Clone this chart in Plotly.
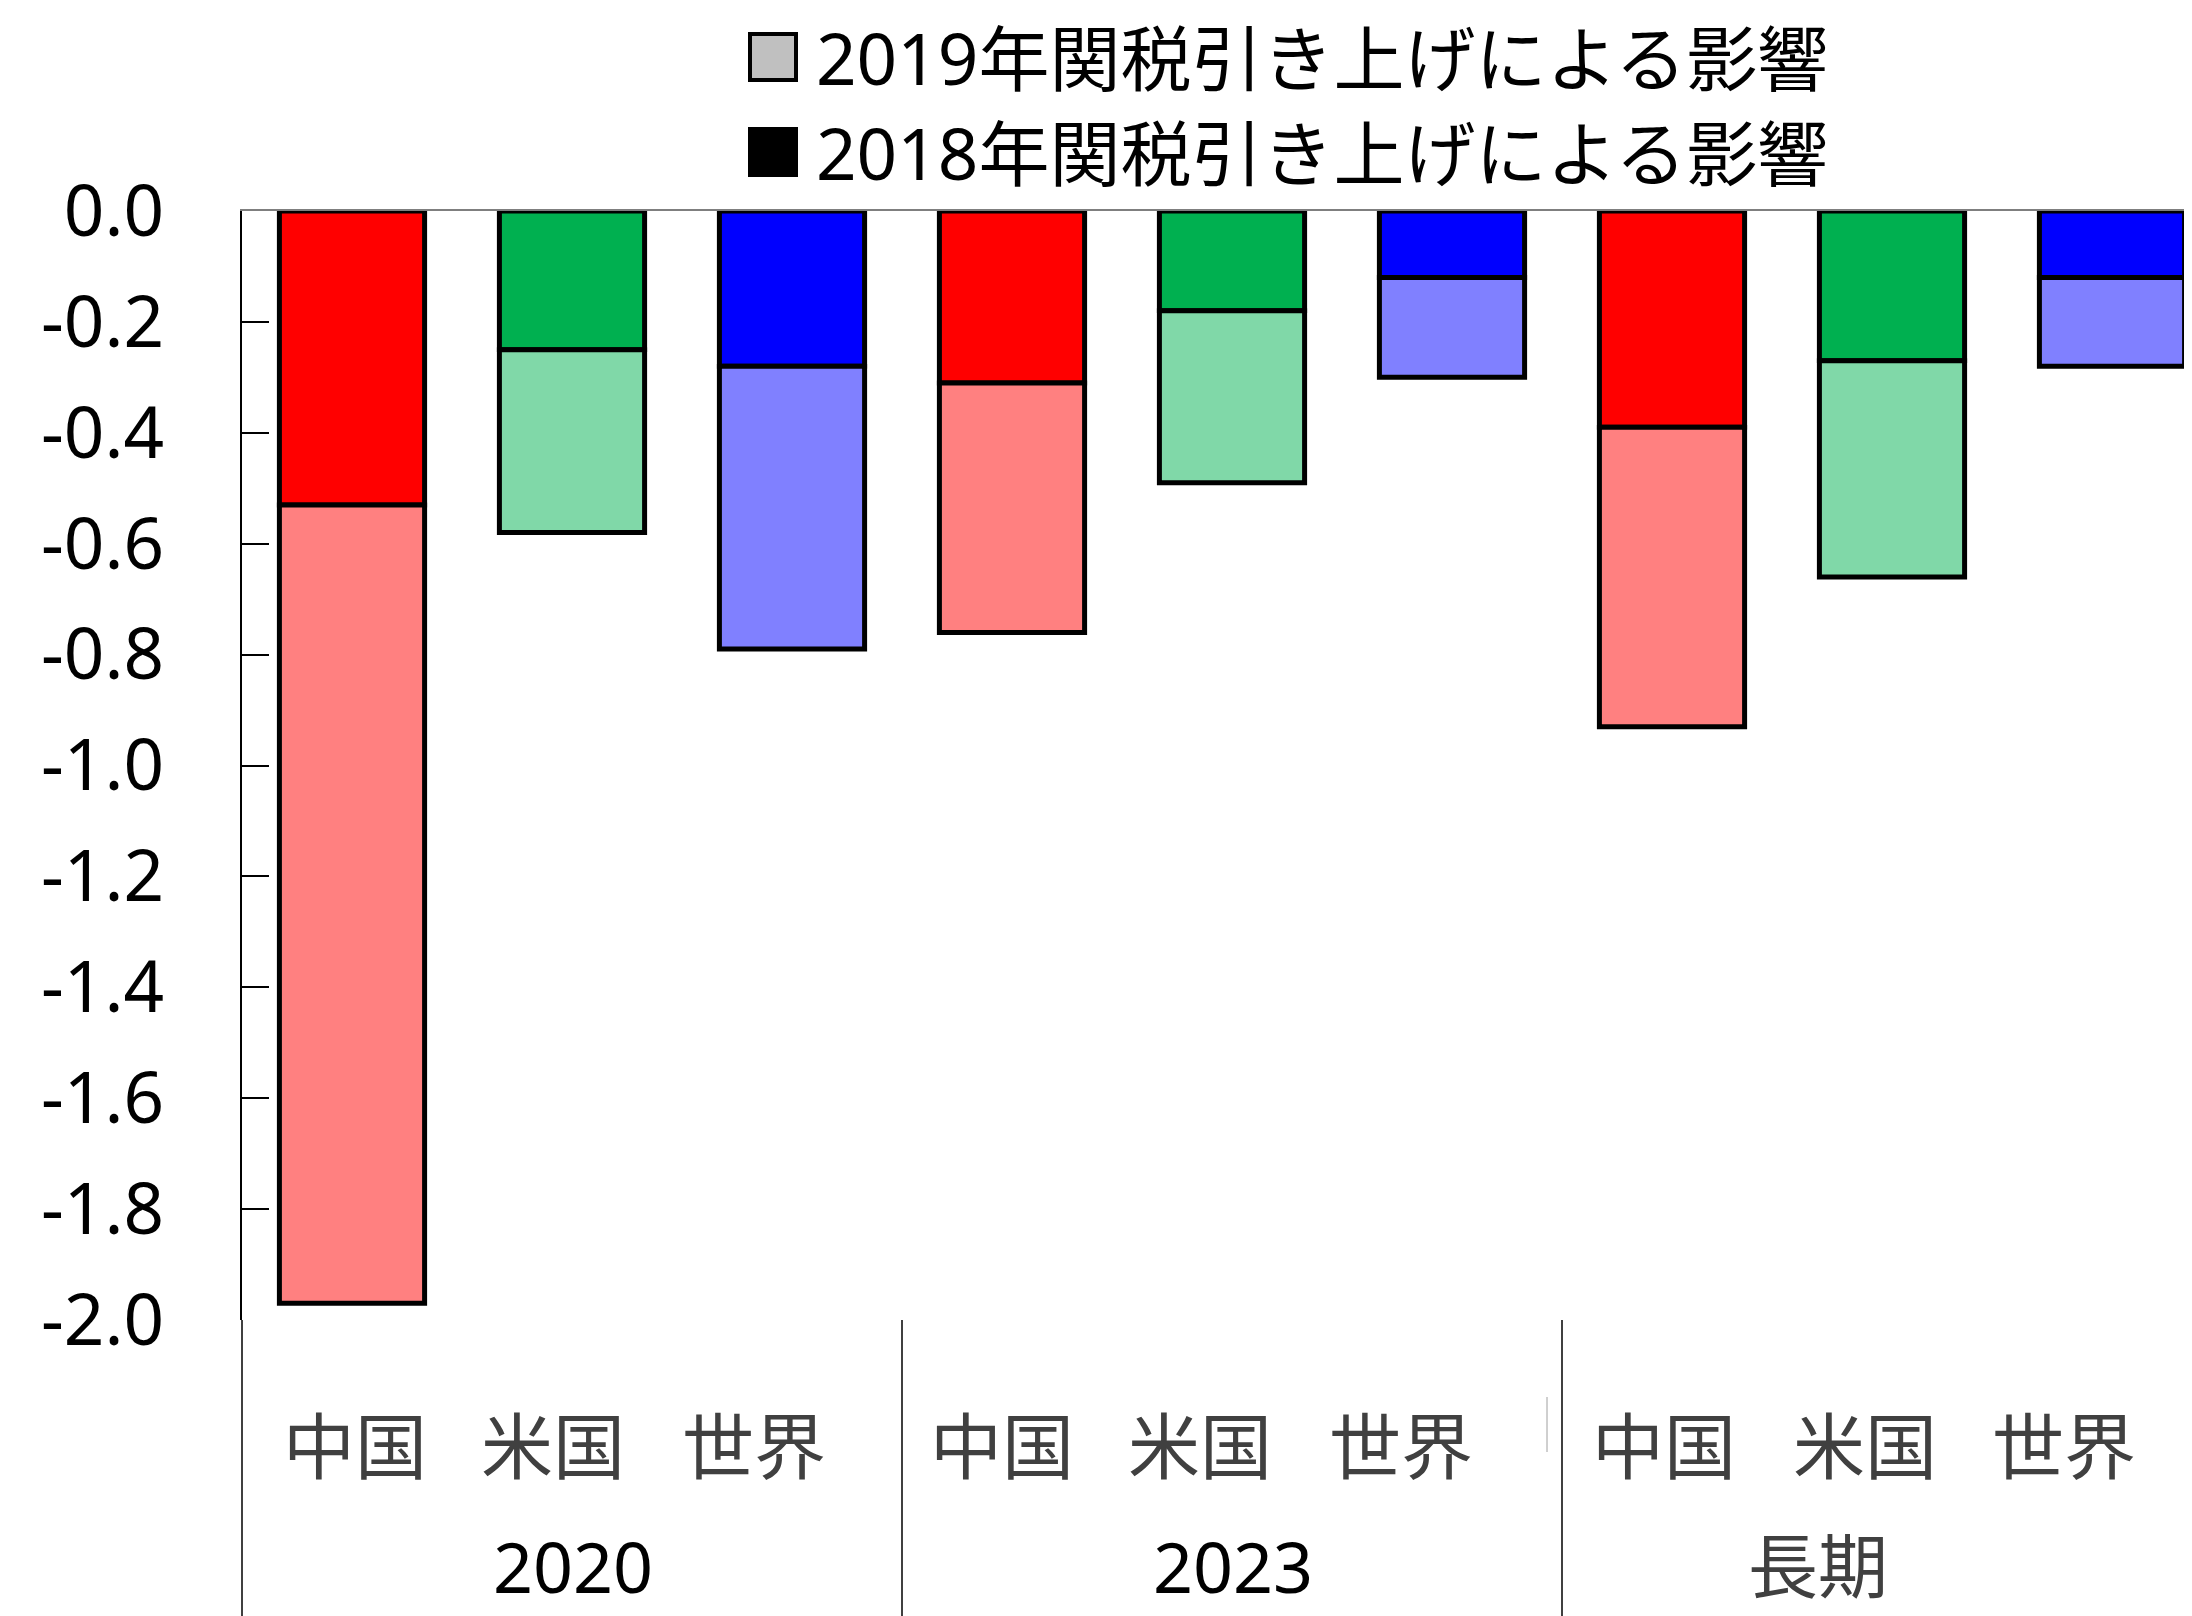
import plotly.graph_objects as go

# ---------------- data ----------------
periods = ["2020", "2023", "長期"]
regions = ["中国", "米国", "世界"]

china_2018 = [-0.53, -0.31, -0.39]
china_2019 = [-1.44, -0.45, -0.54]
us_2018 = [-0.25, -0.18, -0.27]
us_2019 = [-0.33, -0.31, -0.39]
world_2018 = [-0.28, -0.12, -0.12]
world_2019 = [-0.51, -0.18, -0.16]

legend_labels = ["2019年関税引き上げによる影響", "2018年関税引き上げによる影響"]
y_ticks = [0.0, -0.2, -0.4, -0.6, -0.8, -1.0, -1.2, -1.4, -1.6, -1.8, -2.0]

# ---------------- styles ----------------
dark_colors = {"中国": "#FF0000", "米国": "#00B050", "世界": "#0000FF"}
light_colors = {"中国": "#FF8080", "米国": "#80D8A8", "世界": "#8080FF"}
FONT = "Noto Sans, Noto Sans CJK JP, sans-serif"

OFF = 8  # default page body margin
PAGE_W, PAGE_H = 2192, 1616
W, H = PAGE_W - OFF, PAGE_H - OFF
L, T = 242 - OFF, 211 - OFF
PLOT_BOTTOM = 1320 - OFF
B = H - PLOT_BOTTOM
PW, PH = W - L, PLOT_BOTTOM - T
CAT_PX = 220.0


def px_x(px):
    return (px - OFF - L) / PW


def px_y(py):
    return (PLOT_BOTTOM - (py - OFF)) / PH


categories = [f"{p} {r}" for p in periods for r in regions]

series = {
    ("中国", 2018): china_2018, ("米国", 2018): us_2018, ("世界", 2018): world_2018,
    ("中国", 2019): china_2019, ("米国", 2019): us_2019, ("世界", 2019): world_2019,
}

fig = go.Figure()
for year in (2018, 2019):
    for r in regions:
        fig.add_trace(go.Bar(
            x=[f"{p} {r}" for p in periods],
            y=series[(r, year)],
            name=f"{r} {year}",
            width=0.66,
            marker=dict(color=dark_colors[r] if year == 2018 else light_colors[r],
                        line=dict(color="black", width=5)),
            showlegend=False,
        ))

x_max = (W - L) / CAT_PX - 0.5

fig.update_layout(
    width=W, height=H,
    margin=dict(l=L, r=0, t=T, b=B, pad=0),
    paper_bgcolor="white", plot_bgcolor="white",
    barmode="relative",
    font=dict(family=FONT, color="black"),
    xaxis=dict(
        type="category", categoryorder="array", categoryarray=categories,
        range=[-0.5, x_max], side="top",
        showline=True, linecolor="#7F7F7F", linewidth=1.5,
        showticklabels=False, ticks="", showgrid=False, zeroline=False,
    ),
    yaxis=dict(
        range=[-2.0, 0.0],
        tickvals=y_ticks, ticktext=[f"{v:.1f}" for v in y_ticks],
        ticks="inside", ticklen=27, tickwidth=1.5, tickcolor="black",
        showline=True, linecolor="black", linewidth=1.5,
        showgrid=False, zeroline=False,
        tickfont=dict(size=71, color="black", family=FONT),
        ticklabelstandoff=62,
    ),
)

shapes = []
annotations = []

# y axis extension below the plot
shapes.append(dict(type="line", xref="paper", yref="paper", x0=0, x1=0,
                   y0=0, y1=px_y(PAGE_H + 10), line=dict(color="black", width=1.5)))
# group separators
for b in (2.5, 5.5):
    shapes.append(dict(type="line", xref="x", yref="paper", x0=b, x1=b,
                       y0=0, y1=px_y(PAGE_H + 10), line=dict(color="black", width=1.5)))
# faint mark near the third group
shapes.append(dict(type="line", xref="paper", yref="paper", x0=px_x(1547), x1=px_x(1547),
                   y0=px_y(1397), y1=px_y(1452), line=dict(color="#A0A0A0", width=1)))

# category labels
label_shift = [3, -19, -38, -10, -32, -51, -8, -27, -48]
for i, c in enumerate(categories):
    annotations.append(dict(
        x=c, xref="x", y=px_y(1445), yref="paper", text=c.split(" ")[1],
        showarrow=False, xanchor="center", yanchor="middle", xshift=label_shift[i],
        font=dict(size=72, color="#404040", family=FONT),
    ))

# period labels
period_shift = [1, 1, -74]
period_color = ["black", "black", "#404040"]
for j, p in enumerate(periods):
    annotations.append(dict(
        x=categories[3 * j + 1], xref="x", y=px_y(1566), yref="paper", text=p,
        showarrow=False, xanchor="center", yanchor="middle", xshift=period_shift[j],
        font=dict(size=70, color=period_color[j], family=FONT),
    ))

# custom legend
leg_fill = ["#C0C0C0", "black"]
leg_y = [57, 152]
for k, lab in enumerate(legend_labels):
    cy = leg_y[k]
    shapes.append(dict(type="rect", xref="paper", yref="paper",
                       x0=px_x(750), x1=px_x(796), y0=px_y(cy + 23), y1=px_y(cy - 23),
                       fillcolor=leg_fill[k], line=dict(color="black", width=4)))
    annotations.append(dict(
        x=px_x(814), xref="paper", y=px_y(cy), yref="paper", text=lab,
        showarrow=False, xanchor="left", yanchor="middle",
        font=dict(size=71, color="black", family=FONT),
    ))

fig.update_layout(shapes=shapes, annotations=annotations)
fig.write_html("out.html")
